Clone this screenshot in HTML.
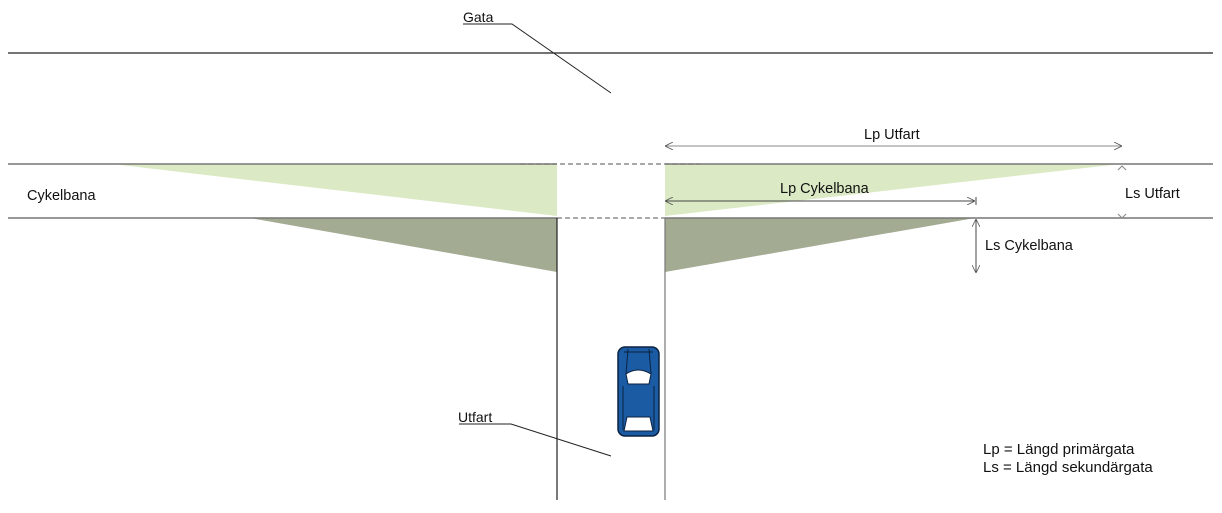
<!DOCTYPE html>
<html><head><meta charset="utf-8"><style>
html,body{margin:0;padding:0;background:#fff;}
svg{display:block;}
text{font-family:"Liberation Sans",sans-serif;fill:#111;}
</style></head><body>
<svg width="1222" height="513" viewBox="0 0 1222 513" xmlns="http://www.w3.org/2000/svg">
<defs>
<marker id="a" viewBox="0 0 10 10" refX="10" refY="5" markerWidth="8" markerHeight="8" orient="auto-start-reverse" markerUnits="userSpaceOnUse"><path d="M0,0 L10,5 L0,10" fill="none" stroke="#555" stroke-width="1"/></marker>
</defs>
<polygon points="112,164 557,164 557,216" fill="#dbeac4"/>
<polygon points="665,164 1120,164 665,216" fill="#dbeac4"/>
<polygon points="250,218 557,218 557,272" fill="#a3ab93"/>
<polygon points="665,218 975,218 665,272" fill="#a3ab93"/>
<line x1="8" y1="53" x2="1213" y2="53" stroke="#222" stroke-width="1.2"/>
<line x1="8" y1="164" x2="557" y2="164" stroke="#777" stroke-width="1.4"/>
<line x1="665" y1="164" x2="1213" y2="164" stroke="#777" stroke-width="1.4"/>
<line x1="8" y1="218" x2="557" y2="218" stroke="#777" stroke-width="1.4"/>
<line x1="665" y1="218" x2="1213" y2="218" stroke="#777" stroke-width="1.4"/>
<line x1="520" y1="164" x2="700" y2="164" stroke="#777" stroke-width="1.2" stroke-dasharray="5,3"/>
<line x1="557" y1="218" x2="665" y2="218" stroke="#777" stroke-width="1.2" stroke-dasharray="5,3"/>
<line x1="557" y1="218" x2="557" y2="500" stroke="#222" stroke-width="1.2"/>
<line x1="665" y1="218" x2="665" y2="500" stroke="#777" stroke-width="1.2"/>
<line x1="665" y1="146" x2="1122" y2="146" stroke="#888" stroke-width="1" marker-start="url(#a)" marker-end="url(#a)"/>
<line x1="665" y1="201" x2="975" y2="201" stroke="#444" stroke-width="1" marker-start="url(#a)" marker-end="url(#a)"/>
<line x1="976" y1="197" x2="976" y2="205" stroke="#444" stroke-width="1"/>
<line x1="976" y1="219" x2="976" y2="273" stroke="#444" stroke-width="1" marker-start="url(#a)" marker-end="url(#a)"/>
<path d="M1118,170 L1122,166 L1126,170 M1118,214 L1122,218 L1126,214" fill="none" stroke="#888" stroke-width="1"/>
<text x="463" y="22" font-size="14">Gata</text>
<polyline points="463,24 512,24 611,93" fill="none" stroke="#222" stroke-width="1"/>
<text x="27" y="200" font-size="14.5">Cykelbana</text>
<text x="864" y="139" font-size="14.5">Lp Utfart</text>
<text x="780" y="193" font-size="14.5">Lp Cykelbana</text>
<text x="1125" y="198" font-size="14.5">Ls Utfart</text>
<text x="985" y="250" font-size="14.5">Ls Cykelbana</text>
<text x="458" y="422" font-size="14">Utfart</text>
<polyline points="459,424 511,424 611,456" fill="none" stroke="#222" stroke-width="1"/>
<text x="983" y="454" font-size="15">Lp = Längd primärgata</text>
<text x="983" y="472" font-size="15">Ls = Längd sekundärgata</text>
<g>
<rect x="618" y="347" width="41" height="89" rx="7" fill="#1a5ba3" stroke="#0b2240" stroke-width="1.5"/>
<path d="M624,352 L653,352" stroke="#0b2240" stroke-width="1"/>
<path d="M626,374 Q638,366 651,374 L649,384 L628,384 Z" fill="#fff" stroke="#0b2240" stroke-width="1"/>
<path d="M627,417 L650,417 L653,431 L624,431 Z" fill="#fff" stroke="#0b2240" stroke-width="1"/>
<path d="M628,349 L626,374 M649,349 L651,374 M623,386 L623,430 M654,386 L654,430" stroke="#0b2240" stroke-width="1"/>
</g>
</svg>
</body></html>
